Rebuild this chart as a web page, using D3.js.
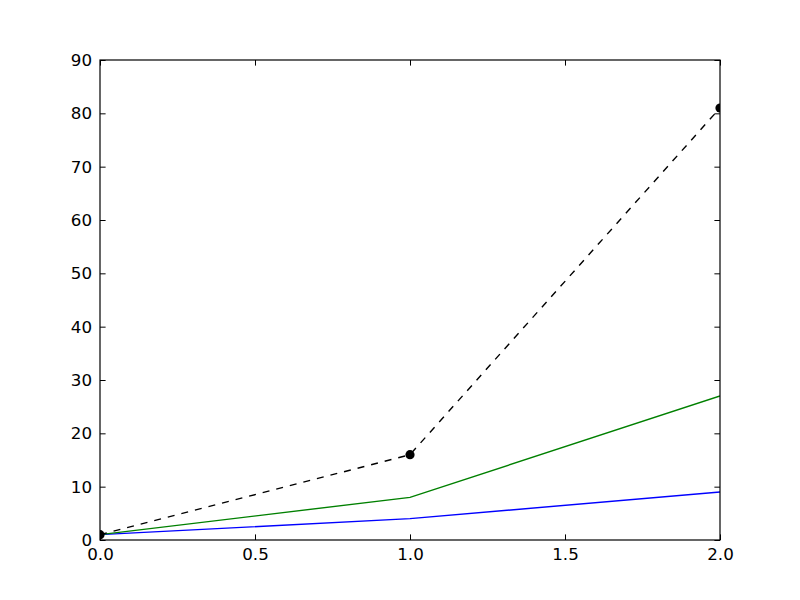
<!DOCTYPE html>
<html><head><meta charset="utf-8">
<script src="https://cdn.jsdelivr.net/npm/d3@7"></script>
<style>body{margin:0;background:#fff}</style>
</head><body>
<svg id="c" width="800" height="600"></svg>
<script>
const xs = [0, 1, 2];
const squares = [1, 4, 9];
const cubes = [1, 8, 27];
const fourth = [1, 16, 81];
const xTicks = [0, 0.5, 1.0, 1.5, 2.0];
const yTicks = [0, 10, 20, 30, 40, 50, 60, 70, 80, 90];

const svg = d3.select("#c");
const L = 100, R = 720, T = 60, B = 540;
const x = d3.scaleLinear().domain([0, 2]).range([L, R]);
const y = d3.scaleLinear().domain([0, 90]).range([B, T]);

svg.append("rect").attr("width", 800).attr("height", 600).attr("fill", "#fff");
svg.append("defs").append("clipPath").attr("id", "clip")
  .append("rect").attr("x", L).attr("y", T).attr("width", R - L).attr("height", B - T);

const g = svg.append("g").attr("clip-path", "url(#clip)");
const line = d3.line().x((d, i) => x(xs[i])).y(d => y(d));
g.append("path").datum(squares).attr("d", line).attr("fill", "none").attr("stroke", "#0000ff").attr("stroke-width", 1.4);
g.append("path").datum(cubes).attr("d", line).attr("fill", "none").attr("stroke", "#008000").attr("stroke-width", 1.4);
g.append("path").datum(fourth).attr("d", line).attr("fill", "none").attr("stroke", "#000").attr("stroke-width", 1.4).attr("stroke-dasharray", "7,7");
g.selectAll("circle").data(fourth).enter().append("circle")
  .attr("cx", (d, i) => x(xs[i])).attr("cy", d => y(d)).attr("r", 4.6).attr("fill", "#000");

const font = "DejaVu Sans";
const tl = 5.6;
const fmtX = d3.format(".1f");
const xb = svg.append("g").attr("transform", `translate(0,${B})`)
  .call(d3.axisBottom(x).tickValues(xTicks).tickFormat(fmtX).tickSizeInner(-tl).tickSizeOuter(0).tickPadding(8));
const xt = svg.append("g").attr("transform", `translate(0,${T})`)
  .call(d3.axisTop(x).tickValues(xTicks).tickFormat("").tickSizeInner(-tl).tickSizeOuter(0));
const yl = svg.append("g").attr("transform", `translate(${L},0)`)
  .call(d3.axisLeft(y).tickValues(yTicks).tickSizeInner(-tl).tickSizeOuter(0).tickPadding(8));
const yr = svg.append("g").attr("transform", `translate(${R},0)`)
  .call(d3.axisRight(y).tickValues(yTicks).tickFormat("").tickSizeInner(-tl).tickSizeOuter(0));
[xb, xt, yl, yr].forEach(a => {
  a.select(".domain").remove();
  a.selectAll("line").attr("stroke", "#000").attr("stroke-width", 1);
  a.selectAll("text").attr("fill", "#000").style("font-family", font).style("font-size", "16.7px");
});
svg.append("rect").attr("x", L).attr("y", T).attr("width", R - L).attr("height", B - T)
  .attr("fill", "none").attr("stroke", "#000").attr("stroke-width", 1.2);
</script>
</body></html>
